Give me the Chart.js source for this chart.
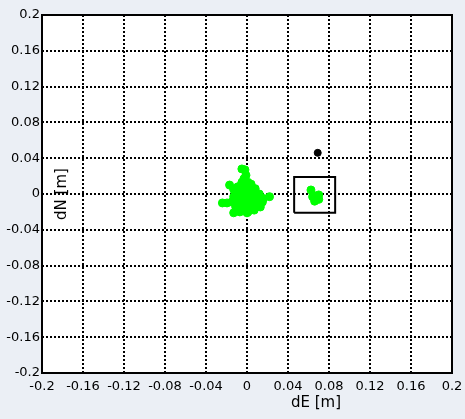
<!DOCTYPE html>
<html>
<head>
<meta charset="utf-8">
<script src="https://cdn.jsdelivr.net/npm/chart.js@4/dist/chart.umd.min.js"></script>
<style>
    body { margin: 0; background: #ebeff5; }
    canvas { display: block; }
</style>
</head>
<body>
<canvas id="myChart" width="465" height="419"></canvas>
<script>
// main cluster around origin
const mainE = [-0.005, -0.002, -0.001, -0.003, -0.017, 0.022, -0.024, -0.0195, -0.013, 0,
    -0.005, 0.001, 0.004,
    -0.013, -0.009, -0.003, 0.003, 0.008,
    -0.011, -0.005, 0.001, 0.007, 0.012,
    -0.013, -0.007, -0.001, 0.005, 0.011, 0.016,
    -0.015, -0.009, -0.003, 0.003, 0.009, 0.015,
    -0.011, -0.005, 0.001, 0.007, 0.013,
    -0.007, 0.001, 0.007];
const mainN = [0.028, 0.027, 0.021, 0.017, 0.010, -0.003, -0.010, -0.010, -0.021, -0.021,
    0.013, 0.013, 0.011,
    0.005, 0.008, 0.008, 0.008, 0.006,
    0.002, 0.002, 0.002, 0.002, 0.000,
    -0.003, -0.003, -0.003, -0.003, -0.003, -0.005,
    -0.009, -0.009, -0.009, -0.009, -0.009, -0.009,
    -0.0145, -0.0145, -0.0145, -0.0145, -0.0145,
    -0.020, -0.020, -0.018];

// second small cluster
const sideE = [0.0624, 0.066, 0.070, 0.066, 0.070, 0.064];
const sideN = [0.0045, -0.002, -0.006, -0.008, -0.001, -0.003];

// single black point
const refE = [0.069];
const refN = [0.046];

// box around the small cluster
const boxE = [0.046, 0.086, 0.086, 0.046, 0.046];
const boxN = [-0.021, -0.021, 0.019, 0.019, -0.021];

const tickValues = [-0.2, -0.16, -0.12, -0.08, -0.04, 0, 0.04, 0.08, 0.12, 0.16, 0.2];

const fontFamily = '"DejaVu Sans", Arial, sans-serif';

function toPoints(xs, ys) {
    return xs.map((x, i) => ({ x: x, y: ys[i] }));
}

const framePlugin = {
    id: 'frame',
    beforeDraw(chart) {
        const { ctx, chartArea: a } = chart;
        ctx.save();
        ctx.fillStyle = '#ffffff';
        ctx.fillRect(a.left, a.top, a.right - a.left, a.bottom - a.top);
        ctx.restore();
    },
    afterDraw(chart) {
        const { ctx, chartArea: a } = chart;
        ctx.save();
        ctx.strokeStyle = '#000000';
        ctx.lineWidth = 2;
        ctx.strokeRect(a.left, a.top, a.right - a.left, a.bottom - a.top);

        // axis labels
        ctx.fillStyle = '#000000';
        ctx.textAlign = 'center';
        ctx.textBaseline = 'middle';
        ctx.font = '15px ' + fontFamily;
        ctx.fillText('dE [m]', 316, 403);
        ctx.translate(62, 194);
        ctx.rotate(-Math.PI / 2);
        ctx.fillText('dN [m]', 0, 0);
        ctx.restore();
    }
};

function axisOptions(fitFn) {
    return {
        min: -0.2,
        max: 0.2,
        afterBuildTicks: (axis) => {
            axis.ticks = tickValues.map(v => ({ value: v }));
        },
        afterFit: fitFn,
        grid: {
            color: '#000000',
            lineWidth: 2,
            drawTicks: false
        },
        border: {
            display: false,
            dash: [2, 2]
        },
        ticks: {
            autoSkip: false,
            maxRotation: 0,
            color: '#000000',
            font: { family: fontFamily, size: 13 },
            callback: (value) => String(+Number(value).toFixed(2))
        }
    };
}

const xOpts = axisOptions((scale) => {
    scale.height = 46;
    scale.paddingLeft = 0;
    scale.paddingRight = 0;
});
xOpts.ticks.padding = 6;
const yOpts = axisOptions((scale) => {
    scale.width = 42;
    scale.paddingTop = 0;
    scale.paddingBottom = 0;
});
yOpts.ticks.padding = 2;

const ctx = document.getElementById('myChart').getContext('2d');
new Chart(ctx, {
    type: 'scatter',
    data: {
        datasets: [{
            data: toPoints(mainE, mainN),
            backgroundColor: '#00ff00',
            borderColor: '#00ff00',
            pointRadius: 4,
            borderWidth: 1
        }, {
            data: toPoints(sideE, sideN),
            backgroundColor: '#00ff00',
            borderColor: '#00ff00',
            pointRadius: 4,
            borderWidth: 1
        }, {
            data: toPoints(refE, refN),
            backgroundColor: '#000000',
            borderColor: '#000000',
            pointRadius: 3.5,
            borderWidth: 1
        }, {
            data: toPoints(boxE, boxN),
            showLine: true,
            borderColor: '#000000',
            borderWidth: 2,
            pointRadius: 0,
            fill: false
        }]
    },
    options: {
        responsive: false,
        animation: false,
        layout: { padding: { top: 15, right: 13, left: 0, bottom: 0 } },
        plugins: {
            legend: { display: false },
            tooltip: { enabled: false }
        },
        scales: {
            x: xOpts,
            y: yOpts
        }
    },
    plugins: [framePlugin]
});
</script>
</body>
</html>
